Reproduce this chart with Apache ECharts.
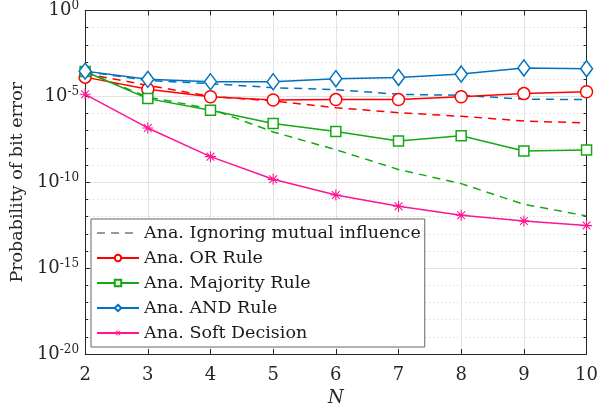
<!DOCTYPE html>
<html>
<head>
<meta charset="utf-8">
<script src="https://cdn.jsdelivr.net/npm/echarts@6/dist/echarts.min.js"></script>
<style>html,body{margin:0;padding:0;background:#fff}#c{width:601px;height:412px}</style>
</head>
<body>
<div id="c"></div>
<script>
var N = [2, 3, 4, 5, 6, 7, 8, 9, 10];
var xTicks = [2, 3, 4, 5, 6, 7, 8, 9, 10];
var yTickExponents = [0, -5, -10, -15, -20];

var orRule = [1.32e-4, 2.6e-5, 9.5e-6, 6.2e-6, 6.5e-6, 6.5e-6, 9.5e-6, 1.45e-5, 1.86e-5];
var orIgnore = [2.1e-4, 4.4e-5, 1.0e-5, 5.4e-6, 2.2e-6, 1.12e-6, 6.9e-7, 3.7e-7, 2.8e-7];
var majRule = [2.8e-4, 7.4e-6, 1.55e-6, 2.6e-7, 8.9e-8, 2.5e-8, 5.1e-8, 6.6e-9, 7.6e-9];
var majIgnore = [2.8e-4, 9.1e-6, 1.9e-6, 8.5e-8, 7.9e-9, 5.5e-10, 8.3e-11, 5.2e-12, 1.1e-12];
var andRule = [2.95e-4, 9.8e-5, 7.1e-5, 7.1e-5, 1.07e-4, 1.26e-4, 2.0e-4, 4.5e-4, 4.1e-4];
var andIgnore = [2.8e-4, 8.5e-5, 5.5e-5, 3.2e-5, 2.45e-5, 1.32e-5, 1.15e-5, 6.9e-6, 6.5e-6];
var softDec = [1.32e-5, 1.45e-7, 3.1e-9, 1.48e-10, 1.82e-11, 4.0e-12, 1.2e-12, 5.6e-13, 3.0e-13];

var names = ['Ana. Ignoring mutual influence', 'Ana. OR Rule', 'Ana. Majority Rule', 'Ana. AND Rule', 'Ana. Soft Decision'];

var RED = '#ff0000', GREEN = '#14a814', BLUE = '#0072bd', PINK = '#ff1493', GREY = '#9a9a9a';
var FONT = 'DejaVu Serif';
var AXC = '#262626';

function pairs(arr) { return N.map(function (n, i) { return [n, arr[i]]; }); }

var asterisk = 'path://M-1,-10L1,-10L1,10L-1,10Z M-10,-1L10,-1L10,1L-10,1Z M-6.36,-7.78L7.78,6.36L6.36,7.78L-7.78,-6.36Z M6.36,-7.78L7.78,-6.36L-6.36,7.78L-7.78,6.36Z';

function solid(name, data, color, symbol, size) {
  return {
    name: name, type: 'line', data: pairs(data), xAxisIndex: 0, yAxisIndex: 0,
    symbol: symbol, symbolSize: size, showAllSymbol: true,
    lineStyle: { color: color, width: 1.5 },
    itemStyle: { color: '#ffffff', borderColor: color, borderWidth: 1.5 },
    emphasis: { disabled: true }, z: 5
  };
}
function dashed(name, data, color) {
  return {
    name: name, type: 'line', data: pairs(data), xAxisIndex: 0, yAxisIndex: 0,
    symbol: 'none', lineStyle: { color: color, width: 1.5, type: [8, 6] },
    emphasis: { disabled: true }, z: 4
  };
}

var softSeries = solid(names[4], softDec, PINK, asterisk, 11);
softSeries.itemStyle = { color: PINK, borderColor: PINK, borderWidth: 0 };

function expLabel(v) {
  var e = Math.round(Math.log10(v));
  if (yTickExponents.indexOf(e) < 0) return '';
  return '{b|10}{s|' + e + '}';
}

function yAxisDef(pos, interval, tickLen, withLabels, splitStyle) {
  var ax = {
    type: 'log', logBase: 10, min: 1e-20, max: 1, interval: interval, position: pos,
    axisLine: { show: true, lineStyle: { color: AXC, width: 1 } },
    axisTick: { show: true, inside: true, length: tickLen, lineStyle: { color: AXC } },
    axisLabel: { show: false },
    splitLine: splitStyle ? { show: true, lineStyle: splitStyle } : { show: false }
  };
  if (withLabels) {
    ax.name = 'Probability of bit error';
    ax.nameLocation = 'middle';
    ax.nameGap = 58;
    ax.nameTextStyle = { fontFamily: FONT, fontSize: 17.5, color: AXC };
    ax.axisLabel = {
      show: true, margin: 6, color: AXC, formatter: expLabel,
      rich: {
        b: { fontFamily: FONT, fontSize: 18, color: AXC },
        s: { fontFamily: FONT, fontSize: 12, color: AXC, padding: [0, 0, 9, 0] }
      }
    };
  }
  return ax;
}

var option = {
  animation: false,
  backgroundColor: '#ffffff',
  grid: { left: 85, right: 10, top: 10, bottom: 58, show: false },
  legend: {
    data: [
      { name: names[0], itemStyle: { opacity: 0 } },
      names[1], names[2], names[3], names[4]
    ],
    orient: 'vertical', left: 91, top: 219,
    itemWidth: 42, itemHeight: 8, itemGap: 7,
    padding: [5, 4, 5, 5],
    backgroundColor: '#ffffff', borderColor: '#666666', borderWidth: 1,
    textStyle: { fontFamily: FONT, fontSize: 17.5, color: '#1a1a1a' },
    selectedMode: false
  },
  xAxis: [{
    type: 'value', min: 2, max: 10, interval: 1, position: 'bottom',
    name: 'N', nameLocation: 'middle', nameGap: 30,
    nameTextStyle: { fontFamily: FONT, fontStyle: 'italic', fontSize: 18, color: AXC },
    axisLine: { show: true, lineStyle: { color: AXC, width: 1 } },
    axisTick: { show: true, inside: true, length: 5, lineStyle: { color: AXC } },
    axisLabel: { margin: 12, fontFamily: FONT, fontSize: 18, color: AXC,
      formatter: function (v) { return xTicks.indexOf(v) >= 0 ? String(v) : ''; } },
    splitLine: { show: true, lineStyle: { color: '#e3e3e3', width: 1 } }
  }, {
    type: 'value', min: 2, max: 10, interval: 1, position: 'top',
    axisLine: { show: true, lineStyle: { color: AXC, width: 1 } },
    axisTick: { show: true, inside: true, length: 5, lineStyle: { color: AXC } },
    axisLabel: { show: false }, splitLine: { show: false }
  }],
  yAxis: [
    yAxisDef('left', 1, 3, true, { color: '#cdcdcd', width: 1, type: [1, 3] }),
    yAxisDef('left', 5, 5, false, { color: '#e3e3e3', width: 1 }),
    yAxisDef('right', 1, 3, false, null),
    yAxisDef('right', 5, 5, false, null)
  ],
  series: [
    { name: names[0], type: 'line', data: [], symbol: 'none', symbolSize: 0,
      lineStyle: { color: GREY, width: 1.5, type: [8, 6] }, itemStyle: { color: GREY, opacity: 0 } },
    dashed('OR ignore', orIgnore, RED),
    dashed('Majority ignore', majIgnore, GREEN),
    dashed('AND ignore', andIgnore, BLUE),
    solid(names[1], orRule, RED, 'circle', 12),
    solid(names[2], majRule, GREEN, 'rect', 10),
    solid(names[3], andRule, BLUE, 'diamond', [12, 16]),
    softSeries
  ]
};

var chart = echarts.init(document.getElementById('c'), null, { renderer: 'canvas' });
chart.setOption(option);
</script>
</body>
</html>
